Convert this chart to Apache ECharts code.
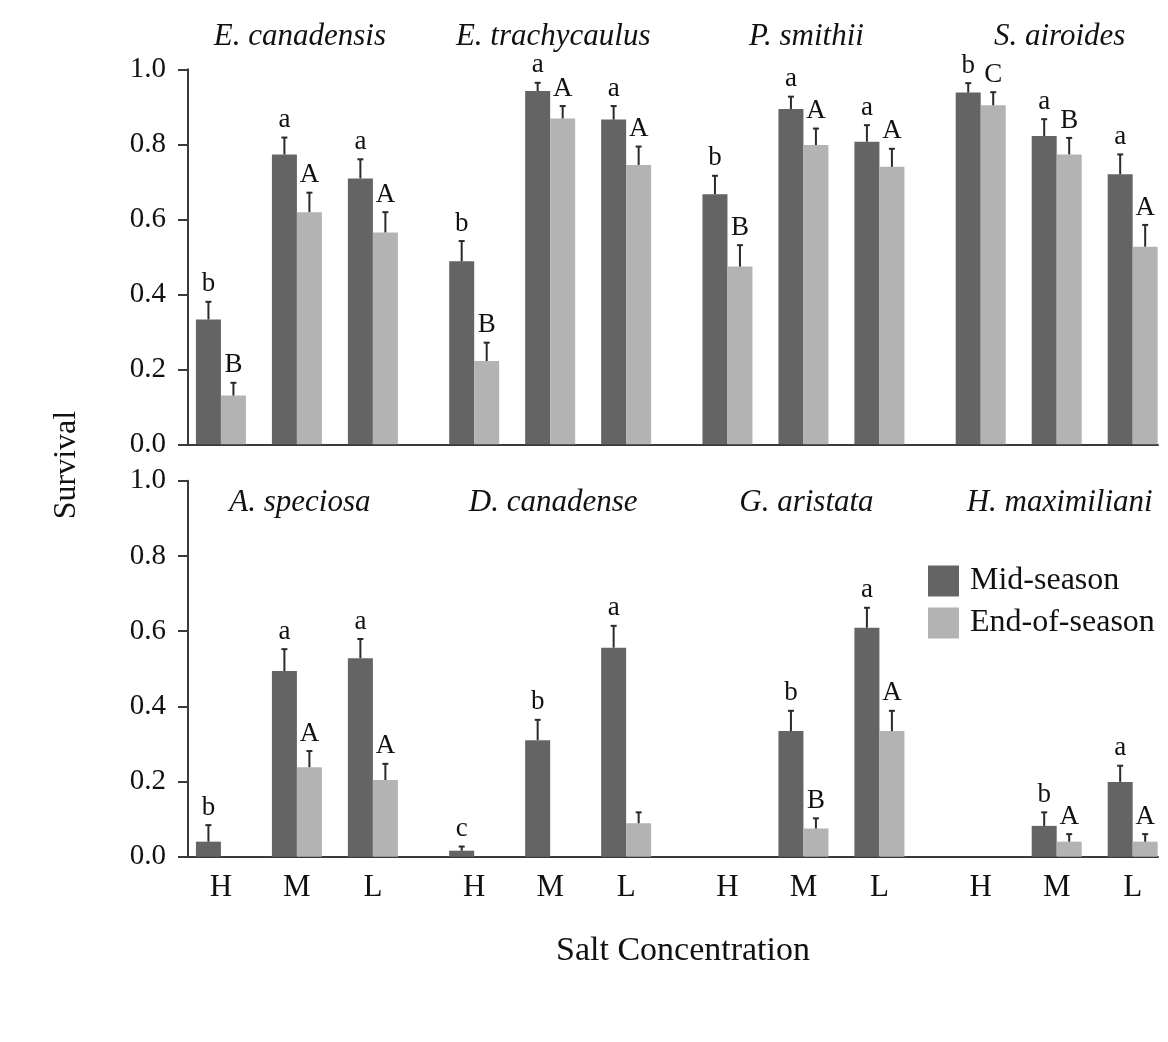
<!DOCTYPE html>
<html>
<head>
<meta charset="utf-8">
<script src="https://cdn.jsdelivr.net/npm/echarts@6/dist/echarts.min.js"></script>
<style>
  html, body { margin: 0; padding: 0; background: #ffffff; }
  #chart { width: 1168px; height: 1042px; }
</style>
</head>
<body>
<div id="chart"></div>
<script>
// Salt concentration levels and species shown in each panel
const saltLevels = ['H', 'M', 'L'];
const speciesTop = ['E. canadensis', 'E. trachycaulus', 'P. smithii', 'S. airoides'];
const speciesBottom = ['A. speciosa', 'D. canadense', 'G. aristata', 'H. maximiliani'];
const seasonNames = ['Mid-season', 'End-of-season'];
const yTicks = [0, 0.2, 0.4, 0.6, 0.8, 1.0];

// Top panel: mean survival and standard error, 4 species x (H, M, L)
const midTop    = [0.333, 0.773, 0.709, 0.488, 0.942, 0.866, 0.667, 0.894, 0.807, 0.938, 0.822, 0.720];
const midTopSE  = [0.047, 0.045, 0.051, 0.054, 0.022, 0.036, 0.049, 0.033, 0.044, 0.025, 0.045, 0.053];
const endTop    = [0.130, 0.619, 0.565, 0.222, 0.869, 0.745, 0.474, 0.798, 0.740, 0.904, 0.773, 0.527];
const endTopSE  = [0.034, 0.052, 0.054, 0.049, 0.033, 0.049, 0.057, 0.044, 0.048, 0.035, 0.044, 0.058];
const midTopLetters = ['b', 'a', 'a', 'b', 'a', 'a', 'b', 'a', 'a', 'b', 'a', 'a'];
const endTopLetters = ['B', 'A', 'A', 'B', 'A', 'A', 'B', 'A', 'A', 'C', 'B', 'A'];

// Bottom panel (null = no surviving plants / no bar)
const midBottom   = [0.040, 0.494, 0.528, 0.016, 0.310, 0.556, null, 0.334, 0.609, null, 0.082, 0.199];
const midBottomSE = [0.044, 0.058, 0.051, 0.011, 0.054, 0.058, null, 0.054, 0.053, null, 0.036, 0.043];
const endBottom   = [null, 0.238, 0.204, null, null, 0.089, null, 0.075, 0.334, null, 0.040, 0.040];
const endBottomSE = [null, 0.043, 0.043, null, null, 0.029, null, 0.027, 0.054, null, 0.020, 0.020];
const midBottomLetters = ['b', 'a', 'a', 'c', 'b', 'a', '', 'b', 'a', '', 'b', 'a'];
const endBottomLetters = ['', 'A', 'A', '', '', '', '', 'B', 'A', '', 'A', 'A'];

// Layout helpers
const SERIF = '"Liberation Serif", "Times New Roman", serif';
const DARK = '#646464';
const LIGHT = '#b3b3b3';
const INK = '#2a2a2a';
const BAR_W = 25;
// x slot of category i: three salt levels per species, an extra gap between species
const slot = i => i * 3 + Math.floor(i / 3);
const slotValues = Array.from({ length: 12 }, (_, i) => slot(i));

function barData(values) {
  return values.map((v, i) => [slot(i), v]);
}
function errData(values, errs) {
  return values.map((v, i) => [slot(i), v, errs[i]]);
}

// Error bar (upper whisker) plus significance letter above it
function errRender(letters, shift) {
  return function (params, api) {
    const x = api.value(0);
    const v = api.value(1);
    const e = api.value(2);
    if (v == null || isNaN(v)) return null;
    const hasErr = !(e == null || isNaN(e));
    const base = api.coord([x, v]);
    const top = api.coord([x, v + (hasErr ? e : 0)]);
    const px = base[0] + shift;
    const children = [];
    if (hasErr) {
      children.push({
        type: 'line',
        shape: { x1: px, y1: base[1], x2: px, y2: top[1] },
        style: { stroke: INK, lineWidth: 2 }
      });
      children.push({
        type: 'line',
        shape: { x1: px - 3, y1: top[1], x2: px + 3, y2: top[1] },
        style: { stroke: INK, lineWidth: 2 }
      });
    }
    const letter = letters[params.dataIndex];
    if (letter) {
      children.push({
        type: 'text',
        style: {
          text: letter, x: px, y: top[1] - 4,
          align: 'center', verticalAlign: 'bottom',
          font: '27px ' + SERIF, fill: '#111'
        }
      });
    }
    return { type: 'group', children: children };
  };
}

const xMin = -1.3, xMax = 37;

function xAxisFor(gridIndex, showLabels) {
  return {
    type: 'value', gridIndex: gridIndex, min: xMin, max: xMax,
    axisLine: { show: true, onZero: false, lineStyle: { color: '#3a3a3a', width: 2 } },
    axisTick: { show: false },
    splitLine: { show: false },
    axisLabel: {
      show: showLabels,
      customValues: slotValues,
      formatter: function (val) {
        const idx = slotValues.indexOf(Math.round(val));
        return idx >= 0 ? saltLevels[idx % 3] : '';
      },
      margin: 16,
      fontFamily: SERIF, fontSize: 31, color: '#111'
    }
  };
}

function yAxisFor(gridIndex) {
  return {
    type: 'value', gridIndex: gridIndex, min: 0, max: 1, interval: 0.2,
    axisLine: { show: true, onZero: false, lineStyle: { color: '#3a3a3a', width: 2 } },
    axisTick: { show: true, length: 10, lineStyle: { color: '#3a3a3a', width: 2 } },
    splitLine: { show: false },
    axisLabel: {
      margin: 22,
      formatter: v => (yTicks.indexOf(Math.round(v * 10) / 10) >= 0 ? v.toFixed(1) : ''),
      fontFamily: SERIF, fontSize: 29, color: '#111'
    }
  };
}

function barSeries(name, data, color, axisIdx) {
  return {
    name: name, type: 'bar', data: data,
    xAxisIndex: axisIdx, yAxisIndex: axisIdx,
    barWidth: BAR_W, barGap: '0%',
    itemStyle: { color: color },
    emphasis: { disabled: true },
    z: 2
  };
}

function errSeries(data, letters, shift, axisIdx) {
  return {
    type: 'custom', data: data,
    xAxisIndex: axisIdx, yAxisIndex: axisIdx,
    renderItem: errRender(letters, shift),
    clip: false, silent: true, z: 3
  };
}

const chart = echarts.init(document.getElementById('chart'), null, { renderer: 'canvas' });

const option = {
  backgroundColor: '#ffffff',
  animation: false,
  grid: [
    { left: 188, right: 10, top: 69.3, height: 375 },
    { left: 188, right: 10, top: 480.7, height: 376 }
  ],
  xAxis: [xAxisFor(0, false), xAxisFor(1, true)],
  yAxis: [yAxisFor(0), yAxisFor(1)],
  legend: {
    data: seasonNames,
    orient: 'vertical',
    left: 923, top: 560,
    icon: 'rect',
    itemWidth: 31, itemHeight: 31, itemGap: 10,
    selectedMode: false,
    textStyle: { fontFamily: SERIF, fontSize: 32, color: '#111', padding: [0, 0, 0, 6] }
  },
  series: [
    barSeries(seasonNames[0], barData(midTop), DARK, 0),
    barSeries(seasonNames[1], barData(endTop), LIGHT, 0),
    barSeries(seasonNames[0], barData(midBottom), DARK, 1),
    barSeries(seasonNames[1], barData(endBottom), LIGHT, 1),
    errSeries(errData(midTop, midTopSE), midTopLetters, -BAR_W / 2, 0),
    errSeries(errData(endTop, endTopSE), endTopLetters, BAR_W / 2, 0),
    errSeries(errData(midBottom, midBottomSE), midBottomLetters, -BAR_W / 2, 1),
    errSeries(errData(endBottom, endBottomSE), endBottomLetters, BAR_W / 2, 1)
  ]
};

chart.setOption(option);

// Species names centred over each species' middle (M) group, plus axis titles
const graphics = [];
function speciesTitles(names, axisIdx, y) {
  names.forEach((name, s) => {
    const px = chart.convertToPixel({ xAxisIndex: axisIdx }, slot(s * 3 + 1));
    graphics.push({
      type: 'text', x: px + 3, y: y,
      style: {
        text: name, font: 'italic 31px ' + SERIF, fill: '#111',
        align: 'center', verticalAlign: 'middle',
        textAlign: 'center', textVerticalAlign: 'middle'
      }
    });
  });
}
speciesTitles(speciesTop, 0, 37);
speciesTitles(speciesBottom, 1, 503);

graphics.push({
  type: 'text', x: 67, y: 465, rotation: Math.PI / 2,
  style: {
    text: 'Survival', font: '32px ' + SERIF, fill: '#111',
    align: 'center', verticalAlign: 'middle',
    textAlign: 'center', textVerticalAlign: 'middle'
  }
});
graphics.push({
  type: 'text', x: 683, y: 951,
  style: {
    text: 'Salt Concentration', font: '34px ' + SERIF, fill: '#111',
    align: 'center', verticalAlign: 'middle',
    textAlign: 'center', textVerticalAlign: 'middle'
  }
});

chart.setOption({ graphic: graphics });
</script>
</body>
</html>
